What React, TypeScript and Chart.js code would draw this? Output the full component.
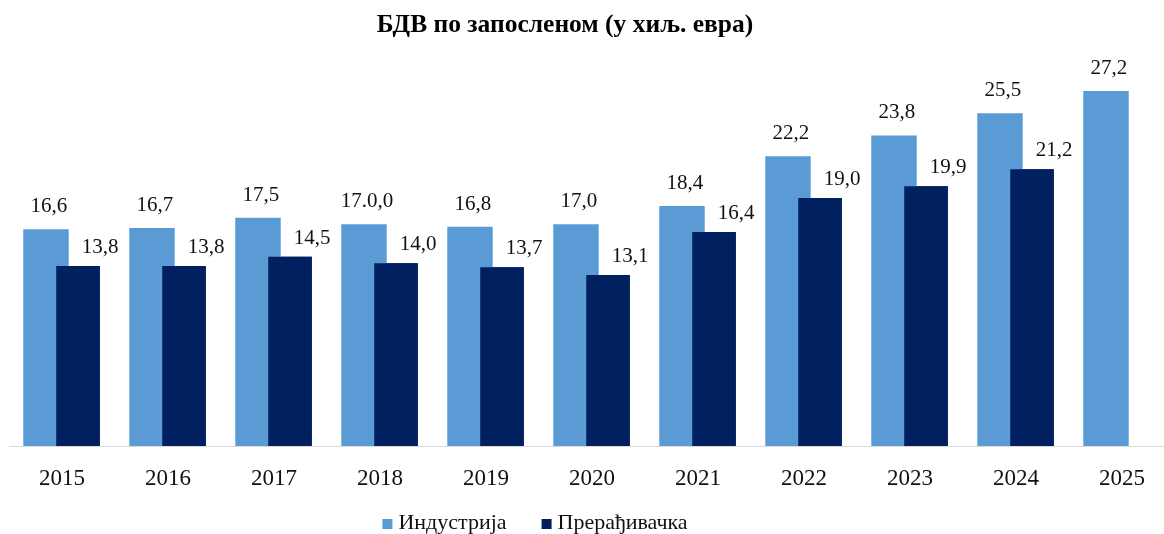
import React, { useEffect, useRef } from "react";
import { Chart, registerables } from "chart.js";

Chart.register(...registerables);

const TITLE = "БДВ по запосленом (у хиљ. евра)";
const years = ["2015", "2016", "2017", "2018", "2019", "2020", "2021", "2022", "2023", "2024", "2025"];
const industryName = "Индустрија";
const manufName = "Прерађивачка";
const industryValues = [16.6, 16.7, 17.5, 17.0, 16.8, 17.0, 18.4, 22.2, 23.8, 25.5, 27.2];
const manufValues: (number | null)[] = [13.8, 13.8, 14.5, 14.0, 13.7, 13.1, 16.4, 19.0, 19.9, 21.2, null];
const industryLabels = ["16,6", "16,7", "17,5", "17.0,0", "16,8", "17,0", "18,4", "22,2", "23,8", "25,5", "27,2"];
const manufLabels = ["13,8", "13,8", "14,5", "14,0", "13,7", "13,1", "16,4", "19,0", "19,9", "21,2", ""];

const LIGHT = "#5B9BD5";
const DARK = "#002060";
const SERIF = "'Liberation Serif', 'Times New Roman', serif";

const W = 1190;
const H = 534;

const overlayPlugin = {
  id: "overlay",
  afterDatasetsDraw(chart: any) {
    const ctx = chart.ctx;
    // draw the dark series over the light one
    chart.getDatasetMeta(1).controller.draw();

    ctx.save();
    ctx.fillStyle = "#111";
    ctx.font = `21px ${SERIF}`;
    ctx.textAlign = "center";
    ctx.textBaseline = "alphabetic";
    const m0 = chart.getDatasetMeta(0);
    m0.data.forEach((el: any, i: number) => {
      if (!industryLabels[i]) return;
      ctx.fillText(industryLabels[i], el.x + 3, el.y - 17);
    });
    const m1 = chart.getDatasetMeta(1);
    m1.data.forEach((el: any, i: number) => {
      if (!manufLabels[i] || manufValues[i] == null) return;
      ctx.fillText(manufLabels[i], el.x + 22, el.y - 13);
    });
    ctx.restore();
  },
  afterDraw(chart: any) {
    const ctx = chart.ctx;
    ctx.save();
    // title
    ctx.fillStyle = "#000";
    ctx.font = `bold 25.5px ${SERIF}`;
    ctx.textAlign = "center";
    ctx.textBaseline = "alphabetic";
    ctx.fillText(TITLE, 565, 32);

    // legend
    ctx.font = `22px ${SERIF}`;
    ctx.textAlign = "left";
    const items = [
      { name: industryName, color: LIGHT },
      { name: manufName, color: DARK },
    ];
    const box = 10;
    const gapBox = 6;
    const gapItem = 35;
    const widths = items.map((it) => ctx.measureText(it.name).width);
    const total = widths.reduce((a, w) => a + box + gapBox + w, 0) + gapItem * (items.length - 1);
    let x = 535 - total / 2;
    items.forEach((it, i) => {
      ctx.fillStyle = it.color;
      ctx.fillRect(x, 519, box, box);
      ctx.fillStyle = "#111";
      ctx.fillText(it.name, x + box + gapBox, 529);
      x += box + gapBox + widths[i] + gapItem;
    });
    ctx.restore();
  },
};

export default function App() {
  const ref = useRef<HTMLCanvasElement>(null);
  useEffect(() => {
    document.body.style.margin = "0";
    const chart = new Chart(ref.current!, {
      type: "bar",
      data: {
        labels: years,
        datasets: [
          {
            label: industryName,
            data: industryValues,
            backgroundColor: LIGHT,
            categoryPercentage: 0.604,
            barPercentage: 1.42,
          },
          {
            label: manufName,
            data: manufValues,
            backgroundColor: DARK,
            categoryPercentage: 0.604,
            barPercentage: 1.36,
          },
        ],
      },
      options: {
        responsive: false,
        animation: false,
        layout: { padding: { left: 9, right: 15, top: 54.5, bottom: 0 } },
        plugins: {
          legend: { display: false },
          title: { display: false },
          tooltip: { enabled: false },
        },
        scales: {
          y: { display: false, min: 0, max: 30 },
          x: {
            grid: { display: false, drawTicks: false },
            border: { display: true, color: "#D9D9D9", width: 1 },
            ticks: {
              color: "#111",
              font: { family: SERIF, size: 23 },
              padding: 19,
              maxRotation: 0,
            },
            afterFit(scale: any) {
              scale.height = H - 446;
            },
          },
        },
      },
      plugins: [overlayPlugin],
    });
    return () => chart.destroy();
  }, []);
  return (
    <div style={{ position: "fixed", left: 0, top: 0, width: 1164, height: H, overflow: "hidden", background: "#fff" }}>
      <canvas ref={ref} width={W} height={H} style={{ width: W, height: H, display: "block" }} />
    </div>
  );
}
